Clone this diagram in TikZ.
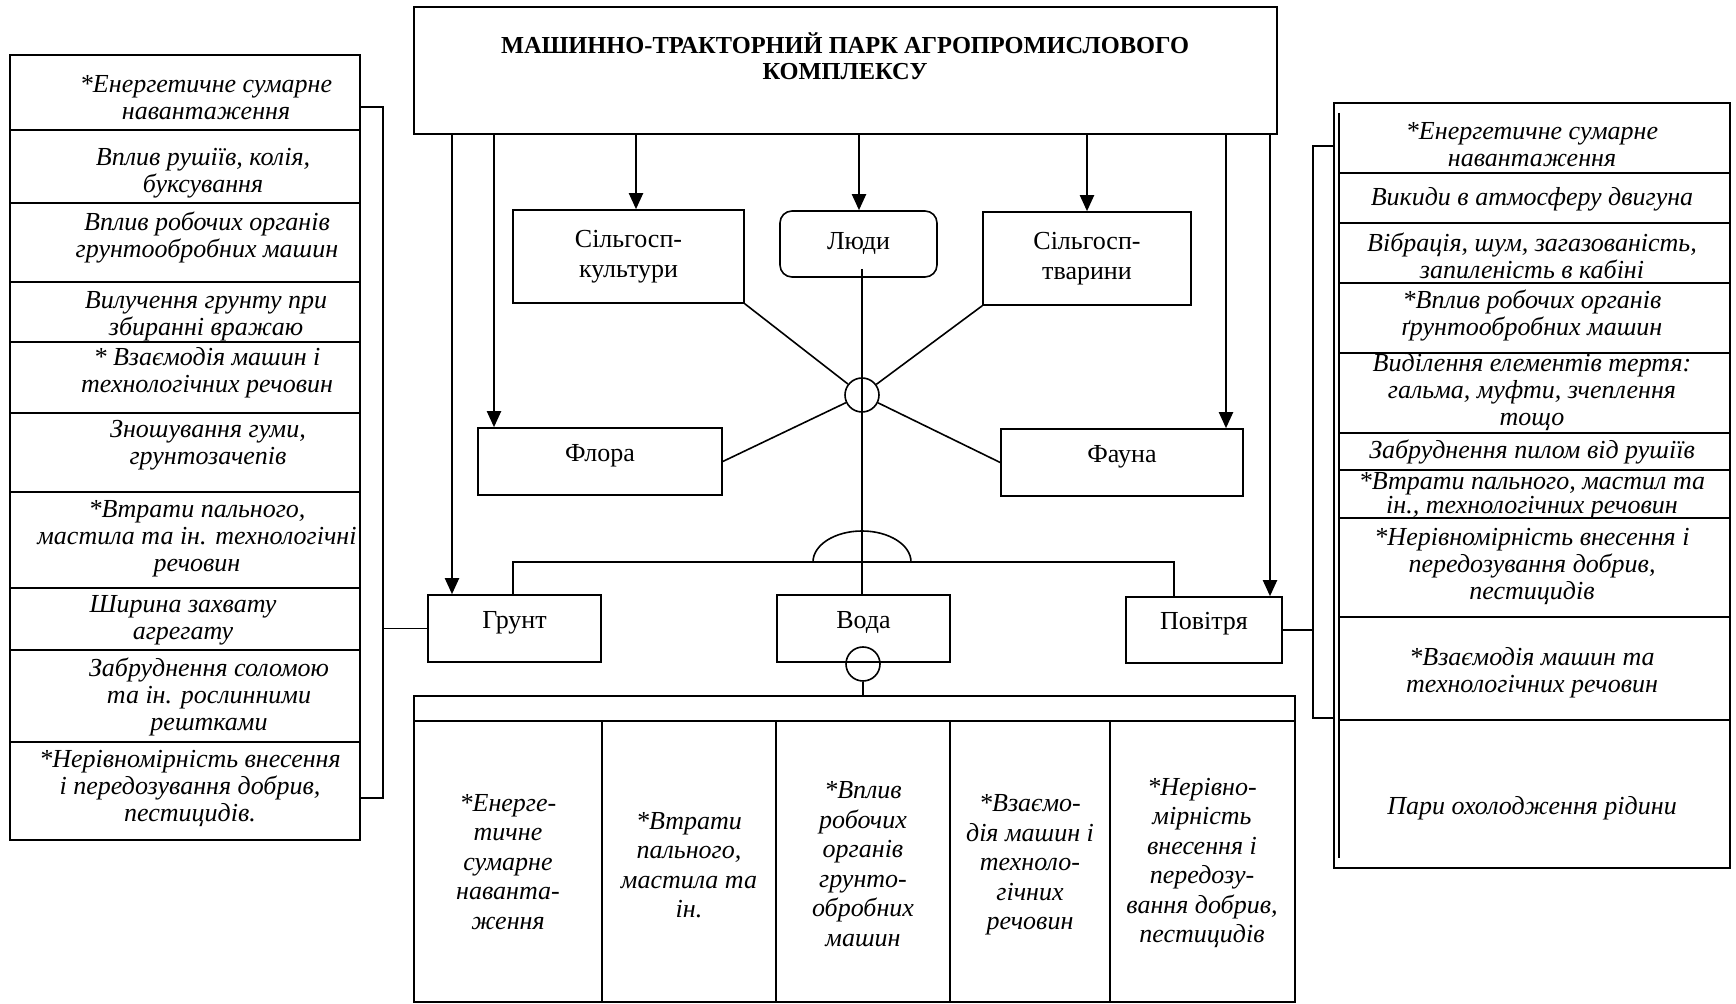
\documentclass[tikz,border=0pt]{standalone}
\usepackage{fontspec}
\setmainfont{Liberation Serif}
\usetikzlibrary{arrows.meta,calc}
\begin{document}
\begin{tikzpicture}[x=0.5pt,y=-0.5pt,
  every node/.style={inner sep=0pt},
  frame/.style={draw, line width=0.8pt},
  box/.style={draw, line width=0.8pt, align=center, font=\fontsize{13}{15}\selectfont},
  raised/.style={text height=9pt, text depth=9pt},
  ln/.style={line width=0.8pt},
  arr/.style={line width=1pt, -{Triangle[length=8pt,width=7pt]}},
  it/.style={align=center, font=\fontsize{13}{13.5}\selectfont\itshape},
  bit/.style={align=center, font=\fontsize{13}{14.75}\selectfont\itshape},
]
\useasboundingbox (0,0) rectangle (1736,1004);
\fill[white] (0,0) rectangle (1736,1004);

% top box
\node[frame, minimum width=431.5pt, minimum height=63.5pt] (top) at (845.5,70.5) {};
\node[font=\fontsize{12.2}{12.75}\selectfont\bfseries, align=center] (title) at (845,56)
  {МАШИННО-ТРАКТОРНИЙ ПАРК АГРОПРОМИСЛОВОГО\\КОМПЛЕКСУ};

% middle nodes
\node[box, minimum width=115.5pt, minimum height=46.5pt] (sk) at (628.5,256.5) {Сільгосп-\\культури};
\node[box, rounded corners=6pt, minimum width=78.5pt, minimum height=33pt] (ludy) at (858.5,244) {Люди};
\node[box, minimum width=104pt, minimum height=46.5pt] (st) at (1087,258.5) {Сільгосп-\\тварини};
\node[box, raised, minimum width=122pt, minimum height=33.5pt] (flora) at (600,461.5) {Флора};
\node[box, raised, minimum width=121pt, minimum height=33.5pt] (fauna) at (1122,462.5) {Фауна};
\node[box, raised, minimum width=86.5pt, minimum height=33.5pt] (grunt) at (514.5,628.5) {Грунт};
\node[box, raised, minimum width=86.5pt, minimum height=33.5pt] (voda) at (863.5,628.5) {Вода};
\node[box, raised, minimum width=78pt, minimum height=33pt] (povitria) at (1204,630) {Повітря};

% hubs
\node[draw, circle, ln, minimum size=17pt] (hub) at (862,395) {};
\node[draw, circle, ln, minimum size=17pt] (hub2) at (863,664) {};

\draw[ln] (sk.south east) -- (hub);
\draw[ln] (st.south west) -- (hub);
\draw[ln] (hub) -- (flora.east);
\draw[ln] (hub) -- (fauna.west);
\coordinate (lv) at (862,269);
\draw[ln] (lv) -- (lv |- voda.north);

% arc and bus
\draw[ln] (813,562) arc[start angle=180, end angle=360, x radius=49, y radius=31];
\coordinate (bl) at (513,562);
\coordinate (br) at (1174,562);
\draw[ln] (bl |- grunt.north) -- (bl) -- (br) -- (br |- povitria.north);

% arrows from top
\foreach \x/\tg in {452/grunt, 494/flora, 636/sk, 859/ludy, 1087/st, 1226/fauna, 1270/povitria}
  \draw[arr] (\x,0 |- top.south) -- (\x,0 |- \tg.north);

% bottom table
\node[frame, minimum width=440.5pt, minimum height=153pt] (tab) at (854.5,849) {};
\draw[ln] (hub2.south) -- (hub2.south |- tab.north);
\draw[ln] (tab.west |- 0,721) -- (tab.east |- 0,721);
\foreach \x in {602,776,950,1110}
  \draw[ln] (\x,721) -- (\x,0 |- tab.south);
\node[bit] (b1) at (508,862) {*Енерге-\\тичне\\сумарне\\наванта-\\ження};
\node[bit] (b2) at (689,865) {*Втрати\\пального,\\мастила та\\ін.};
\node[bit] (b3) at (863,864) {*Вплив\\робочих\\органів\\грунто-\\обробних\\машин};
\node[bit] (b4) at (1030,865) {*Взаємо-\\дія машин і\\техноло-\\гічних\\речовин};
\node[bit] (b5) at (1202,863) {*Нерівно-\\мірність\\внесення і\\передозу-\\вання добрив,\\пестицидів};

% left column
\node[frame, minimum width=175pt, minimum height=392.5pt] (lcol) at (185,447.5) {};
\foreach \y in {130,203,282,342,413,492,588,650,742}
  \draw[ln] (lcol.west |- 0,\y) -- (lcol.east |- 0,\y);
\node[it] (l1) at (206,98) {*Енергетичне сумарне\\навантаження};
\node[it] (l2) at (203,173) {Вплив рушіїв, колія,\\буксування};
\node[it] (l3) at (207,238) {Вплив робочих органів\\грунтообробних машин};
\node[it] (l4) at (206,316) {Вилучення грунту при\\збиранні вражаю};
\node[it] (l5) at (207,373) {* Взаємодія машин і\\технологічних речовин};
\node[it] (l6) at (208,445) {Зношування гуми,\\грунтозачепів};
\node[it] (l7) at (197,539) {*Втрати пального,\\мастила та ін. технологічні\\речовин};
\node[it] (l8) at (183,620) {Ширина захвату\\агрегату};
\node[it] (l9) at (209,697) {Забруднення соломою\\та ін. рослинними\\рештками};
\node[it] (l10) at (190,788) {*Нерівномірність внесення\\і передозування добрив,\\пестицидів.};

\coordinate (lb1) at (383,107);
\coordinate (lb2) at (383,798);
\draw[ln] (lcol.east |- lb1) -- (lb1) -- (lb2) -- (lcol.east |- lb2);
\draw[ln] (grunt.west) -- (grunt.west -| lb1);

% right column
\node[frame, minimum width=198pt, minimum height=382.5pt] (rcol) at (1532,485.5) {};
\coordinate (ri) at (1339,113);
\draw[ln] (ri) -- (ri |- 0,858);
\foreach \y in {173,223,283,353,433,470,518,617,720}
  \draw[ln] (ri |- 0,\y) -- (rcol.east |- 0,\y);
\node[it] (r1) at (1532,145) {*Енергетичне сумарне\\навантаження};
\node[it] (r2) at (1532,199) {Викиди в атмосферу двигуна};
\node[it] (r3) at (1532,256) {Вібрація, шум, загазованість,\\запиленість в кабіні};
\node[it] (r4) at (1532,316) {*Вплив робочих органів\\ґрунтообробних машин};
\node[it] (r5) at (1532,392) {Виділення елементів тертя:\\гальма, муфти, зчеплення\\тощо};
\node[it] (r6) at (1532,452) {Забруднення пилом від рушіїв};
\node[it, font=\fontsize{13}{12}\selectfont\itshape] (r7) at (1532,496) {*Втрати пального, мастил та\\ін., технологічних речовин};
\node[it] (r8) at (1532,566) {*Нерівномірність внесення і\\передозування добрив,\\пестицидів};
\node[it] (r9) at (1532,673) {*Взаємодія машин та\\технологічних речовин};
\node[it] (r10) at (1532,808) {Пари охолодження рідини};

\coordinate (rb1) at (1313,146);
\coordinate (rb2) at (1313,718);
\draw[ln] (rcol.west |- rb1) -- (rb1) -- (rb2) -- (rcol.west |- rb2);
\draw[ln] (povitria.east) -- (povitria.east -| rb1);
\end{tikzpicture}
\end{document}
